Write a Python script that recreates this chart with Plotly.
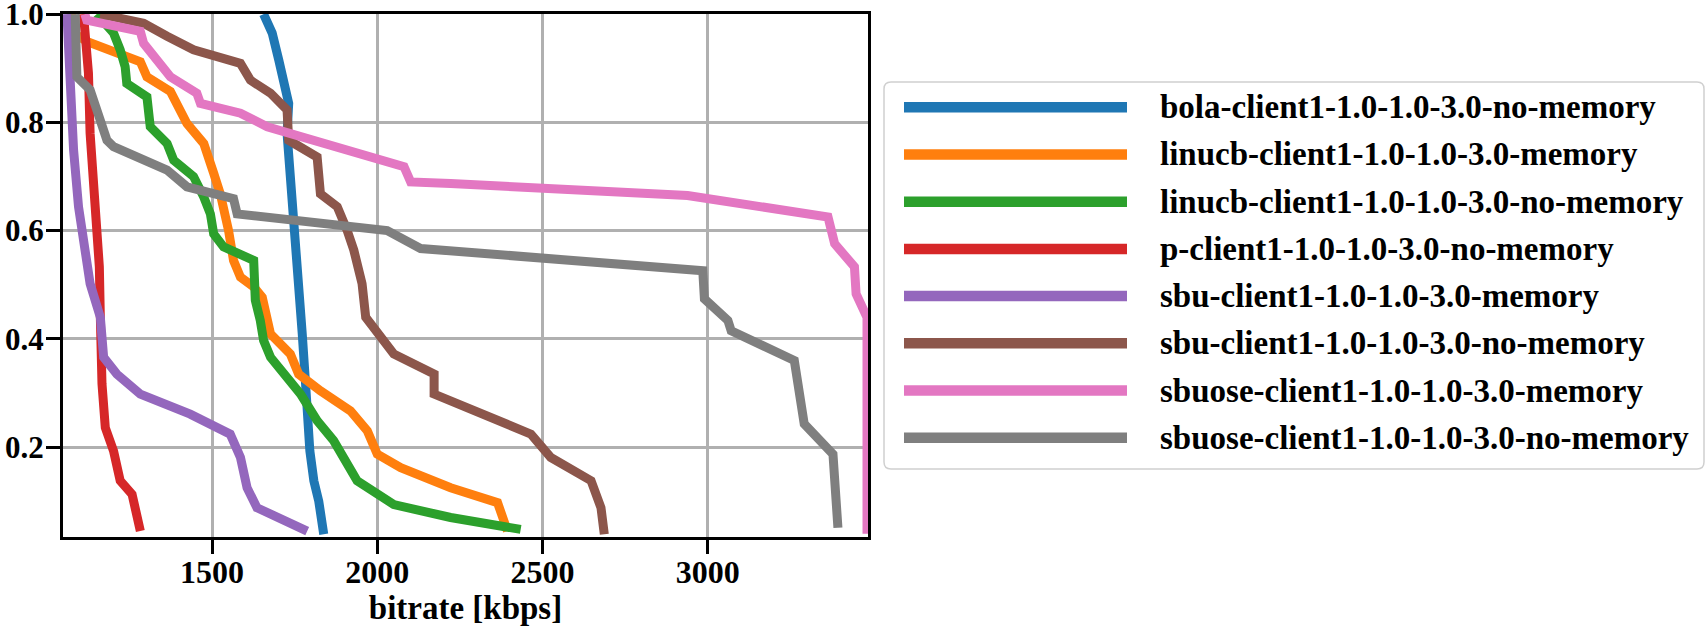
import plotly.graph_objects as go

NAMES = [
    "bola-client1-1.0-1.0-3.0-no-memory",
    "linucb-client1-1.0-1.0-3.0-memory",
    "linucb-client1-1.0-1.0-3.0-no-memory",
    "p-client1-1.0-1.0-3.0-no-memory",
    "sbu-client1-1.0-1.0-3.0-memory",
    "sbu-client1-1.0-1.0-3.0-no-memory",
    "sbuose-client1-1.0-1.0-3.0-memory",
    "sbuose-client1-1.0-1.0-3.0-no-memory",
]
COLORS = ["#1f77b4", "#ff7f0e", "#2ca02c", "#d62728",
          "#9467bd", "#8c564b", "#e377c2", "#7f7f7f"]

bola_x = [1656, 1682, 1702, 1717, 1732, 1727, 1737, 1747, 1752, 1762, 1771, 1773, 1783, 1788, 1796, 1808, 1823, 1838]
bola_y = [1.0, 0.965, 0.915, 0.866, 0.835, 0.78, 0.706, 0.644, 0.594, 0.508, 0.44, 0.409, 0.317, 0.255, 0.193, 0.138, 0.10, 0.039]

linm_x = [1075, 1080, 1123, 1212, 1283, 1303, 1374, 1424, 1475, 1505, 1525, 1550, 1565, 1586, 1626, 1652, 1667, 1677, 1737, 1762, 1828, 1919, 1970, 2000, 2071, 2222, 2364, 2394]
linm_y = [1.0, 0.965, 0.949, 0.928, 0.912, 0.884, 0.857, 0.798, 0.761, 0.706, 0.668, 0.60, 0.545, 0.514, 0.496, 0.477, 0.44, 0.409, 0.372, 0.335, 0.304, 0.267, 0.23, 0.187, 0.162, 0.125, 0.0974, 0.045]

linn_x = [1151, 1202, 1222, 1237, 1242, 1303, 1313, 1364, 1384, 1444, 1475, 1495, 1505, 1535, 1626, 1631, 1646, 1656, 1677, 1727, 1768, 1818, 1868, 1939, 2050, 2222, 2434]
linn_y = [1.0, 0.965, 0.934, 0.903, 0.872, 0.847, 0.792, 0.761, 0.73, 0.70, 0.662, 0.631, 0.594, 0.57, 0.545, 0.471, 0.434, 0.397, 0.366, 0.329, 0.298, 0.249, 0.212, 0.138, 0.094, 0.070, 0.048]

p_x = [1111, 1126, 1131, 1146, 1159, 1162, 1162, 1167, 1177, 1202, 1222, 1258, 1283]
p_y = [1.0, 0.891, 0.78, 0.656, 0.533, 0.44, 0.409, 0.317, 0.236, 0.193, 0.138, 0.113, 0.045]

sbum_x = [1061, 1071, 1081, 1096, 1116, 1131, 1162, 1172, 1212, 1283, 1434, 1555, 1586, 1606, 1636, 1788]
sbum_y = [1.0, 0.841, 0.749, 0.644, 0.564, 0.502, 0.44, 0.366, 0.335, 0.298, 0.261, 0.224, 0.181, 0.125, 0.088, 0.045]

sbun_x = [1162, 1293, 1364, 1444, 1586, 1616, 1677, 1727, 1732, 1818, 1828, 1879, 1909, 1929, 1954, 1965, 2050, 2172, 2172, 2465, 2525, 2647, 2677, 2687]
sbun_y = [1.0, 0.983, 0.959, 0.934, 0.909, 0.878, 0.854, 0.823, 0.767, 0.736, 0.668, 0.644, 0.60, 0.564, 0.502, 0.44, 0.372, 0.335, 0.298, 0.224, 0.181, 0.138, 0.088, 0.039]

sbuom_x = [1115, 1121, 1283, 1293, 1374, 1454, 1465, 1586, 1667, 1768, 1970, 2081, 2101, 2222, 2939, 3364, 3384, 3444, 3449, 3482, 3482]
sbuom_y = [1.0, 0.989, 0.968, 0.946, 0.884, 0.854, 0.835, 0.817, 0.792, 0.773, 0.736, 0.718, 0.69, 0.687, 0.665, 0.625, 0.576, 0.533, 0.483, 0.44, 0.04]

sbuon_x = [1086, 1091, 1131, 1162, 1182, 1202, 1364, 1424, 1565, 1576, 2030, 2131, 2985, 2990, 3061, 3071, 3262, 3292, 3379, 3394]
sbuon_y = [1.0, 0.884, 0.86, 0.798, 0.767, 0.755, 0.712, 0.681, 0.659, 0.631, 0.60, 0.567, 0.526, 0.474, 0.434, 0.415, 0.36, 0.243, 0.187, 0.051]

SERIES_X = [bola_x, linm_x, linn_x, p_x, sbum_x, sbun_x, sbuom_x, sbuon_x]
SERIES_Y = [bola_y, linm_y, linn_y, p_y, sbum_y, sbun_y, sbuom_y, sbuon_y]

X_TICKS = [1500, 2000, 2500, 3000]
Y_TICKS = [0.2, 0.4, 0.6, 0.8, 1.0]

W, H = 1707, 627
L, R, T, B = 63, 868, 14, 537
FONT = "Liberation Serif"

fig = go.Figure()
for name, col, xs, ys in zip(NAMES, COLORS, SERIES_X, SERIES_Y):
    fig.add_trace(go.Scatter(x=xs, y=ys, mode="lines", name=name,
                             line=dict(color=col, width=9), showlegend=False))

# custom legend (box, line samples, labels) in paper coordinates
def px(xp):
    return (xp - L) / (R - L)

def py(yp):
    return (B - yp) / (B - T)

bx0, bx1, by0, by1, rad = 884, 1704, 82, 469, 7
box_path = (
    f"M {px(bx0 + rad)},{py(by0)} L {px(bx1 - rad)},{py(by0)} "
    f"Q {px(bx1)},{py(by0)} {px(bx1)},{py(by0 + rad)} "
    f"L {px(bx1)},{py(by1 - rad)} Q {px(bx1)},{py(by1)} {px(bx1 - rad)},{py(by1)} "
    f"L {px(bx0 + rad)},{py(by1)} Q {px(bx0)},{py(by1)} {px(bx0)},{py(by1 - rad)} "
    f"L {px(bx0)},{py(by0 + rad)} Q {px(bx0)},{py(by0)} {px(bx0 + rad)},{py(by0)} Z"
)
shapes = [dict(type="path", xref="paper", yref="paper", path=box_path,
               line=dict(color="#d0d0d0", width=1.5), fillcolor="white",
               layer="below")]
annotations = []
for i, (name, col) in enumerate(zip(NAMES, COLORS)):
    yc = 107.3 + i * 47.2
    shapes.append(dict(type="line", xref="paper", yref="paper",
                       x0=px(904), x1=px(1127), y0=py(yc), y1=py(yc),
                       line=dict(color=col, width=10.5)))
    annotations.append(dict(text=name, xref="paper", yref="paper",
                            x=px(1158), y=py(yc), xanchor="left", yanchor="middle",
                            showarrow=False,
                            font=dict(family=FONT, size=33, color="black", weight="bold")))

fig.update_layout(
    width=W, height=H,
    margin=dict(l=L, r=W - R, t=T, b=H - B, pad=0),
    paper_bgcolor="white", plot_bgcolor="white",
    font=dict(family=FONT, size=32, color="black", weight="bold"),
    showlegend=False,
    shapes=shapes, annotations=annotations,
)
fig.update_xaxes(range=[1049, 3485], tickvals=X_TICKS, ticktext=[str(v) for v in X_TICKS],
                 tickfont=dict(family=FONT, size=32, weight="bold"),
                 ticklabelstandoff=-9, ticklabeloverflow="allow",
                 showgrid=True, gridcolor="#b0b0b0", gridwidth=3,
                 showline=True, linecolor="black", linewidth=3, mirror=True,
                 ticks="outside", ticklen=14, tickwidth=3, tickcolor="black",
                 zeroline=False,
                 title=dict(text="bitrate [kbps]", standoff=5,
                            font=dict(family=FONT, size=33, weight="bold")),
                 automargin=False)
fig.update_yaxes(range=[0.034, 1.0002], tickvals=Y_TICKS, ticktext=[f"{v:.1f}" for v in Y_TICKS],
                 tickfont=dict(family=FONT, size=31, weight="bold"),
                 ticklabelstandoff=-4, ticklabeloverflow="allow",
                 showgrid=True, gridcolor="#b0b0b0", gridwidth=3,
                 showline=True, linecolor="black", linewidth=3, mirror=True,
                 ticks="outside", ticklen=14, tickwidth=3, tickcolor="black",
                 zeroline=False, automargin=False)

fig.write_html("out.html")
